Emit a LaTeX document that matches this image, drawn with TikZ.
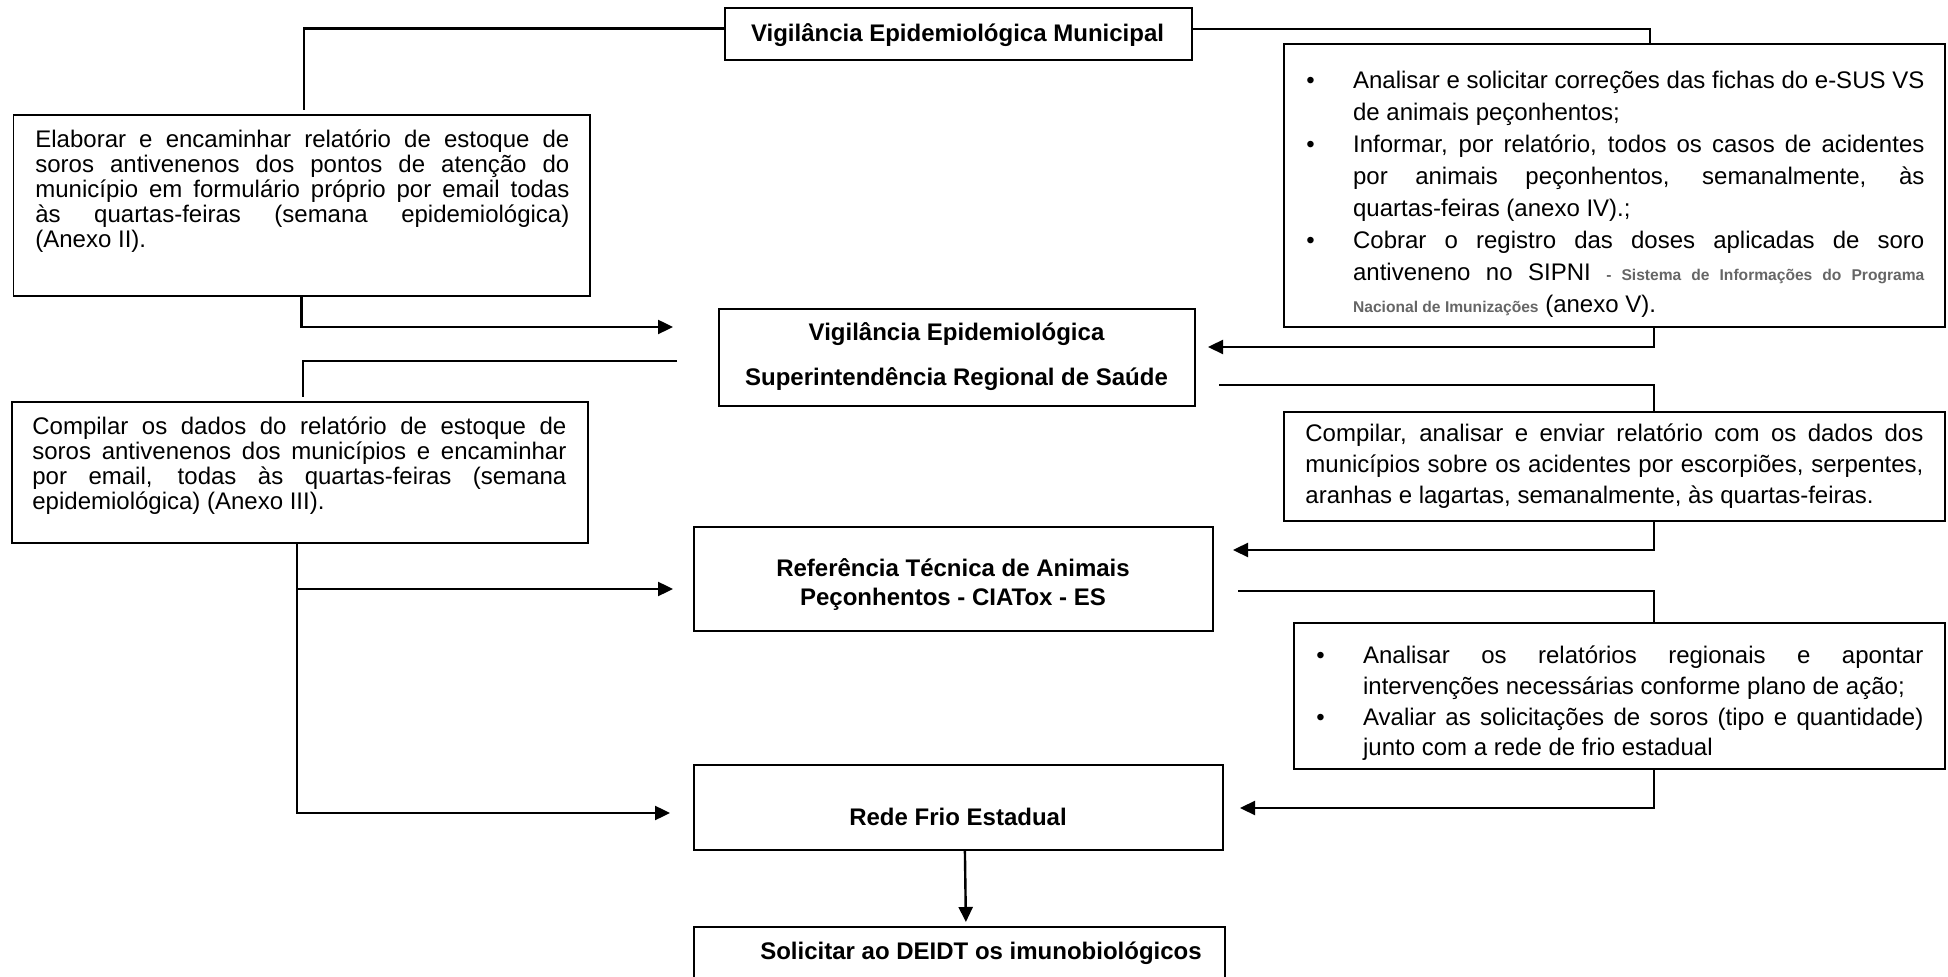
\documentclass[tikz,border=0pt]{standalone}
\usepackage{fontspec}
\setmainfont{Liberation Sans}
\usetikzlibrary{arrows.meta}
\hyphenpenalty=10000
\exhyphenpenalty=10000
\tolerance=10000
\newcommand{\myitem}[2]{\par\noindent\hangindent=#1\hangafter=1\makebox[#1][l]{\textbullet}\ignorespaces #2\par}
\newcommand{\grsm}[1]{{\color[HTML]{666666}\bfseries\fontsize{7.8}{8}\selectfont #1}}
\begin{document}
\begin{tikzpicture}[x=0.5pt,y=-0.5pt,
  box/.style={draw, line width=0.9pt, inner sep=0pt, anchor=north west},
  conn/.style={line width=1.2pt},
  arr/.style={conn, -{Triangle[length=7.5pt,width=7pt]}},
  txt/.style={anchor=north west, inner sep=0pt, align=justify},
  ttl/.style={font=\bfseries\fontsize{12}{14}\selectfont, inner sep=0pt, anchor=base}
]
\useasboundingbox (0,0) rectangle (1948,977);
\fill[white] (0,0) rectangle (1948,977);

% boxes
\node[box, minimum width=233.5pt, minimum height=26pt] (title) at (724,7) {};
\node[box, minimum width=288.25pt, minimum height=90.5pt] (box1) at (12.5,114) {};
\node[box, minimum width=288pt, minimum height=70.5pt] (box2) at (11,401) {};
\node[box, minimum width=238pt, minimum height=48.5pt] (vesrs) at (718,308) {};
\node[box, minimum width=259.5pt, minimum height=52pt] (ref) at (693,526) {};
\node[box, minimum width=264.5pt, minimum height=42.5pt] (rede) at (693,764) {};
\node[box, minimum width=265.5pt, minimum height=50pt] (sol) at (693,926) {};
\node[box, minimum width=330.5pt, minimum height=141.5pt] (R1) at (1283,43) {};
\node[box, minimum width=330.5pt, minimum height=54.5pt] (R2) at (1283,411) {};
\node[box, minimum width=325.5pt, minimum height=73pt] (R3) at (1293,622) {};

% bold titles
\node[ttl] (ttlA) at (957.5,41.6) {Vigilância Epidemiológica Municipal};
\node[ttl] (ttlB1) at (956.5,341) {Vigilância Epidemiológica};
\node[ttl] (ttlB2) at (956.5,386) {Superintendência Regional de Saúde};
\node[ttl] (ttlC1) at (953,577) {Referência Técnica de Animais};
\node[ttl] (ttlC2) at (953,606) {Peçonhentos - CIATox - ES};
\node[ttl] (ttlD) at (958,825.6) {Rede Frio Estadual};
\node[ttl] (ttlE) at (981,959.6) {Solicitar ao DEIDT os imunobiológicos};

% body texts
\node[txt, text width=267pt, font=\fontsize{12}{12.5}\selectfont] (t1) at (35,127) {\rule{0pt}{10pt}Elaborar e encaminhar relatório de estoque de\linebreak soros antivenenos dos pontos de atenção do\linebreak município em formulário próprio por email todas\linebreak às quartas-feiras (semana epidemiológica)\linebreak (Anexo II).};

\node[txt, text width=267pt, font=\fontsize{12}{12.5}\selectfont] (t2) at (32,414) {\rule{0pt}{10pt}Compilar os dados do relatório de estoque de\linebreak soros antivenenos dos municípios e encaminhar\linebreak por email, todas às quartas-feiras (semana\linebreak epidemiológica) (Anexo III).};

\node[txt, text width=309pt, font=\fontsize{12}{16}\selectfont] (tR1) at (1306,56) {%
\myitem{23.35pt}{\rule{0pt}{10pt}Analisar e solicitar correções das fichas do e-SUS VS\linebreak de animais peçonhentos;}%
\myitem{23.35pt}{Informar, por relatório, todos os casos de acidentes\linebreak por animais peçonhentos, semanalmente, às\linebreak quartas-feiras (anexo IV).;}%
\myitem{23.35pt}{Cobrar o registro das doses aplicadas de soro\linebreak antiveneno no SIPNI \grsm{- Sistema de Informações do Programa}\linebreak \grsm{Nacional de Imunizações} (anexo V).}};

\node[txt, text width=309pt, font=\fontsize{12}{15.5}\selectfont] (tR2) at (1305,421) {\rule{0pt}{10pt}Compilar, analisar e enviar relatório com os dados dos\linebreak municípios sobre os acidentes por escorpiões, serpentes,\linebreak aranhas e lagartas, semanalmente, às quartas-feiras.};

\node[txt, text width=303.5pt, font=\fontsize{12}{15.3}\selectfont] (tR3) at (1316,633) {%
\myitem{23.35pt}{\rule{0pt}{10pt}Analisar os relatórios regionais e apontar\linebreak intervenções necessárias conforme plano de ação;}%
\myitem{23.35pt}{Avaliar as solicitações de soros (tipo e quantidade)\linebreak junto com a rede de frio estadual}};

% helper coordinates
\coordinate (rx) at (1654,0);
\coordinate (lx) at (297,0);
\coordinate (a1) at (673,327);
\coordinate (a2) at (677,361);
\coordinate (a3) at (1208,347);
\coordinate (b1) at (1219,385);
\coordinate (a4) at (1233,550);
\coordinate (b2) at (1238,591);
\coordinate (a5) at (1240,808);
\coordinate (a6) at (673,589);
\coordinate (a7) at (670,813);
\coordinate (tx) at (1650,0);

% connectors
\draw[conn] ([yshift=2.75pt]title.west) -| ([xshift=1.1pt,yshift=2pt]box1.north);
\draw[conn] ([yshift=2.5pt]title.east) -| (R1.north -| tx);
\draw[arr] (box1.south) |- (a1);
\draw[conn] (a2) -| ([xshift=1.5pt,yshift=2pt]box2.north);
\draw[arr] (R1.south -| rx) |- (a3);
\draw[conn] (b1) -| (R2.north -| rx);
\draw[arr] (R2.south -| rx) |- (a4);
\draw[conn] (b2) -| (R3.north -| rx);
\draw[arr] (R3.south -| rx) |- (a5);
\draw[arr] (box2.south -| lx) |- (a7);
\draw[arr] (a6 -| lx) -- (a6);
\draw[arr] ([xshift=3.25pt]rede.south) -- ([xshift=3.25pt,yshift=2pt]sol.north);
\end{tikzpicture}
\end{document}
